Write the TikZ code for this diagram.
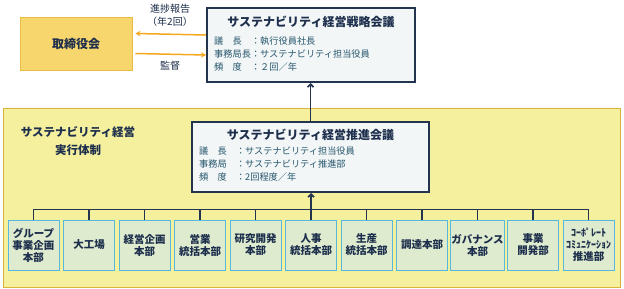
\documentclass[tikz,border=0pt]{standalone}
\usepackage{fontspec}
\setmainfont{Noto Sans CJK JP}
\usepackage{xcolor}
\usetikzlibrary{arrows.meta,positioning,calc}
\definecolor{boardfill}{HTML}{F7D66E}
\definecolor{boardline}{HTML}{E9BC43}
\definecolor{arroworange}{HTML}{F5A81E}
\definecolor{areafill}{HTML}{F4F09E}
\definecolor{arealine}{HTML}{D9B23A}
\definecolor{meetfill}{HTML}{F3F6F7}
\definecolor{navy}{HTML}{23344E}
\definecolor{deptfill}{HTML}{DEEBCF}
\definecolor{deptline}{HTML}{55B8DC}
\definecolor{txtnavy}{HTML}{1D2F4C}
\definecolor{txtteal}{HTML}{25566C}
\newcommand{\hwtext}[1]{{\fontsize{10}{11.5}\selectfont #1}}

\begin{document}
\begin{tikzpicture}[x=1pt,y=-1pt,
    board/.style={draw=boardline,fill=boardfill,line width=0.8pt,minimum width=112pt,minimum height=53pt,font=\fontsize{12}{14}\selectfont\bfseries,text=txtnavy},
    area/.style={draw=arealine,fill=areafill,line width=1pt,minimum width=617pt,minimum height=179pt},
    meeting/.style={draw=navy,fill=meetfill,line width=2pt},
    title/.style={font=\fontsize{12}{14}\selectfont\bfseries,text=txtnavy,inner sep=0pt},
    detail/.style={font=\fontsize{9.2}{13}\selectfont,text=txtteal,align=left,inner sep=0pt,anchor=north west},
    dept/.style={draw=deptline,fill=deptfill,line width=1pt,minimum width=51pt,minimum height=50pt,inner sep=1pt,align=center,font=\fontsize{10.5}{12}\selectfont\bfseries,text=txtnavy},
    report/.style={arroworange,line width=1.5pt,-{Stealth[length=5pt,width=5.5pt]}},
    link/.style={navy,line width=1.6pt},
    lbl/.style={font=\fontsize{10}{13}\selectfont,text=txtnavy,align=center}]
    \useasboundingbox (0,0) rectangle (624,289);

    % Board and strategy meeting
    \node[board] (board) at (76,43.5) {取締役会};
    \node[meeting,minimum width=208pt,minimum height=74pt] (strat) at (311,45) {};
    \node[title] (strattitle) at ([yshift=-15pt]strat.north) {サステナビリティ経営戦略会議};
    \node[detail] (stratinfo) at ([xshift=8pt,yshift=-30pt]strat.north west)
        {議　長　：執行役員社長\\事務局長：サステナビリティ担当役員\\頻　度　：２回／年};

    % Reporting lines
    \draw[report] ([yshift=10pt]strat.west) -- ([yshift=10pt,xshift=3pt]board.east);
    \draw[report] ([yshift=-10pt,xshift=3pt]board.east) -- ([yshift=-10pt]strat.west);
    \node[lbl] (replbl) at (170,15) {進捗報告\\（年2回）};
    \node[lbl] (suplbl) at (170,66) {監督};

    % Execution structure
    \node[area] (exec) at (311.5,197.5) {};
    \node[title,align=center,font=\fontsize{11.5}{18}\selectfont\bfseries] (exectitle) at (78,141)
        {サステナビリティ経営\\実行体制};
    \node[meeting,minimum width=237pt,minimum height=70pt] (promo) at (310.5,157) {};
    \node[title] (promotitle) at ([yshift=-14pt]promo.north) {サステナビリティ経営推進会議};
    \node[detail] (promoinfo) at ([xshift=8pt,yshift=-26pt]promo.north west)
        {議　長　：サステナビリティ担当役員\\事務局　：サステナビリティ推進部\\頻　度　：2回程度／年};
    \draw[link,-{Straight Barb[length=3pt,width=6pt]}] (promo.north) -- (promo.north |- strat.south);

    % Divisions
    \foreach \i/\lab in {1/{グループ\\事業企画\\本部},2/{大工場},3/{経営企画\\本部},4/{営業\\統括本部},
        5/{研究開発\\本部},6/{人事\\統括本部},7/{生産\\統括本部},8/{調達本部},9/{ガバナンス\\本部},
        10/{事業\\開発部}} {
        \node[dept] (d\i) at ({33.5+55.5*(\i-1)},245) {\lab};
    }
    \node[dept] (d11) at (588.5,245) {\hwtext{ｺｰﾎﾟﾚｰﾄ}\\\hwtext{ｺﾐｭﾆｹｰｼｮﾝ}\\推進部};

    % Connections
    \draw[link] (d1.north) -- ++(0,-10) -| (d11.north);
    \foreach \i in {2,...,10} {
        \draw[link] (d\i.north) -- ++(0,-10);
    }
    \draw[link,-{Straight Barb[length=3pt,width=6pt]}] ([yshift=10pt]d6.north) -- (d6.north |- promo.south);
\end{tikzpicture}
\end{document}
